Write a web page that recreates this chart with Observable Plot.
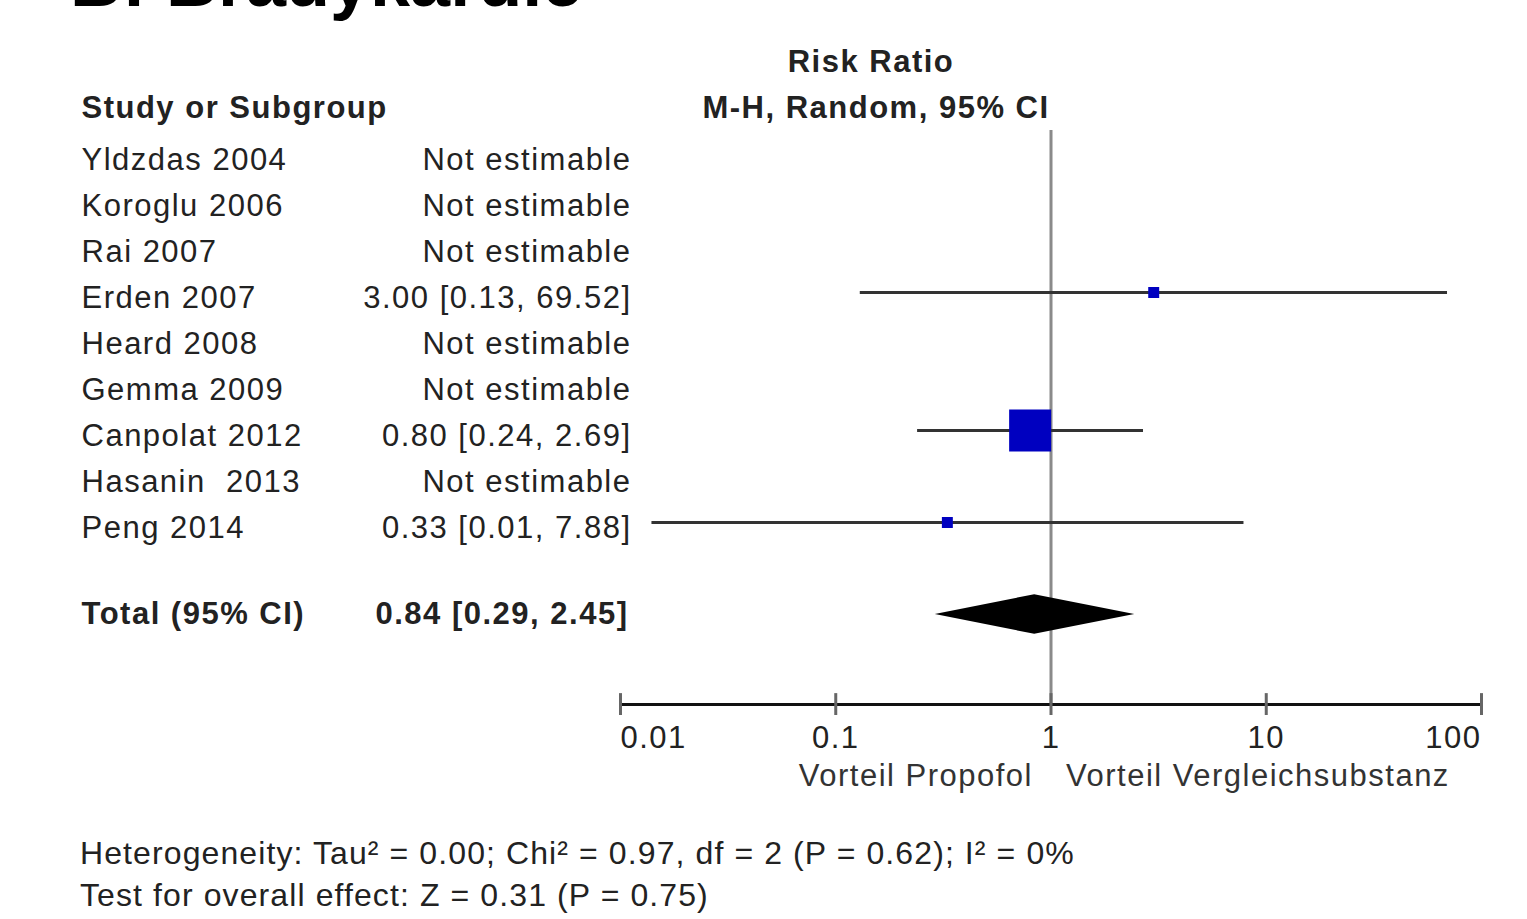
<!DOCTYPE html>
<html><head><meta charset="utf-8">
<script src="https://cdn.jsdelivr.net/npm/d3@7"></script>
<script src="https://cdn.jsdelivr.net/npm/@observablehq/plot@0.6"></script>
<style>
body{margin:0;background:#fff;overflow:hidden}
#wrap{position:relative;width:1527px;height:919px;overflow:hidden;background:#fff}
#chart{position:absolute;left:0;top:0}
#titlebox{position:absolute;left:0;top:0;z-index:2}
.foot{position:absolute;left:80px;font:32px "Liberation Sans",Arial,sans-serif;color:#222;letter-spacing:1.1px;white-space:pre;line-height:40px}
</style></head><body>
<div id="wrap">
<div id="chart"></div>
<svg id="titlebox" width="1527" height="40"><text id="title" x="70" y="6" font-family="'Liberation Sans', Arial, sans-serif" font-size="72" font-weight="bold" fill="#000"></text></svg>
<div class="foot" id="f1" style="top:833px"></div>
<div class="foot" id="f2" style="top:875px"></div>
</div>
<script>
const titleText = "B: Bradykardie";
const studies = ["Yldzdas 2004","Koroglu 2006","Rai 2007","Erden 2007","Heard 2008","Gemma 2009","Canpolat 2012","Hasanin  2013","Peng 2014"];
const riskRatio = [null,null,null,3.00,null,null,0.80,null,0.33];
const ciLow = [null,null,null,0.13,null,null,0.24,null,0.014];
const ciHigh = [null,null,null,69.52,null,null,2.69,null,7.88];
const weights = [null,null,null,6,null,null,88,null,6];
const effectLabels = ["Not estimable","Not estimable","Not estimable","3.00 [0.13, 69.52]","Not estimable","Not estimable","0.80 [0.24, 2.69]","Not estimable","0.33 [0.01, 7.88]"];
const totalLabel = "Total (95% CI)";
const totalEstimate = 0.84, totalLow = 0.29, totalHigh = 2.45;
const totalText = "0.84 [0.29, 2.45]";
const ticks = [0.01, 0.1, 1, 10, 100];
const tickLabels = ["0.01","0.1","1","10","100"];
const heterogeneity = "Heterogeneity: Tau² = 0.00; Chi² = 0.97, df = 2 (P = 0.62); I² = 0%";
const overallEffect = "Test for overall effect: Z = 0.31 (P = 0.75)";

const rows = studies.map((s,i)=>({study:s,row:i,effect:effectLabels[i],rr:riskRatio[i],lo:ciLow[i],hi:ciHigh[i],w:weights[i]}));
const estimable = rows.filter(d=>d.rr!=null);
const totalRow = studies.length + 1;
const h = 0.43;
const diamond = [
  {y: totalRow - h, x1: totalEstimate, x2: totalEstimate},
  {y: totalRow, x1: totalLow, x2: totalHigh},
  {y: totalRow + h, x1: totalEstimate, x2: totalEstimate}
];
const fmt = d => tickLabels[ticks.indexOf(d)];
const axisRow = 11.957;
const txt = "#222";

const chart = Plot.plot({
  width: 1527, height: 820,
  marginLeft: 620, marginRight: 46, marginTop: 0, marginBottom: 116,
  x: {type: "log", domain: [0.01, 100]},
  y: {domain: [0, 10], range: [154, 614], axis: null},
  r: {domain: [0, 88], range: [0, 23.7]},
  style: {fontFamily: "'Liberation Sans', Arial, sans-serif", fontSize: "31px", color: txt, letterSpacing: "1.5px", background: "#fff"},
  marks: [
    Plot.ruleX([1], {y1: -0.52, y2: axisRow, stroke: "#8a8a8a", strokeWidth: 3}),
    Plot.ruleY(estimable, {y: "row", x1: "lo", x2: "hi", stroke: "#333", strokeWidth: 3}),
    Plot.dot(estimable, {x: "rr", y: "row", r: "w", symbol: "square", fill: "#0000c0", stroke: null}),
    Plot.areaX(diamond, {y: "y", x1: "x1", x2: "x2", fill: "#000", curve: "linear"}),
    Plot.frame({anchor: "bottom", stroke: "#111", strokeWidth: 3}),
    Plot.ruleX(ticks, {y1: 11.72, y2: 12.196, stroke: "#666", strokeWidth: 3}),
    Plot.axisX({ticks: [0.1, 1, 10], tickFormat: fmt, tickSize: 0, tickPadding: 21, fontSize: 31, fill: txt, label: null}),
    Plot.axisX({ticks: [0.01], tickFormat: fmt, tickSize: 0, tickPadding: 21, fontSize: 31, fill: txt, label: null, textAnchor: "start"}),
    Plot.axisX({ticks: [100], tickFormat: fmt, tickSize: 0, tickPadding: 21, fontSize: 31, fill: txt, label: null, textAnchor: "end"}),
    Plot.text(rows, {y: "row", text: "study", frameAnchor: "left", dx: -539, dy: 6, textAnchor: "start", fill: txt}),
    Plot.text(rows, {y: "row", text: "effect", frameAnchor: "left", dx: 11, dy: 6, textAnchor: "end", fill: txt}),
    Plot.text([totalLabel], {y: () => totalRow, text: d => d, frameAnchor: "left", dx: -539, dy: 0, textAnchor: "start", fontWeight: "bold", fill: txt}),
    Plot.text([totalText], {y: () => totalRow, text: d => d, frameAnchor: "left", dx: 8, dy: 0, textAnchor: "end", fontWeight: "bold", fill: txt}),
    Plot.text(["Study or Subgroup"], {y: () => -1.13, text: d => d, frameAnchor: "left", dx: -539, dy: 6, textAnchor: "start", fontWeight: "bold", fill: txt}),
    Plot.text(["Risk Ratio"], {x: 1, y: () => -2.13, text: d => d, dx: -180, dy: 6, fontWeight: "bold", fill: txt}),
    Plot.text(["M-H, Random, 95% CI"], {x: 1, y: () => -1.13, text: d => d, dx: -175, dy: 6, fontWeight: "bold", fill: txt}),
    Plot.text(["Vorteil Propofol"], {x: 1, y: () => 13.39, text: d => d, dx: -18, dy: 6, textAnchor: "end", fill: "#333"}),
    Plot.text(["Vorteil Vergleichsubstanz"], {x: 1, y: () => 13.39, text: d => d, dx: 15, dy: 6, textAnchor: "start", fill: "#333"})
  ]
});
document.getElementById("chart").appendChild(chart);
document.getElementById("title").textContent = titleText;
document.getElementById("f1").textContent = heterogeneity;
document.getElementById("f2").textContent = overallEffect;
</script>
</body></html>
